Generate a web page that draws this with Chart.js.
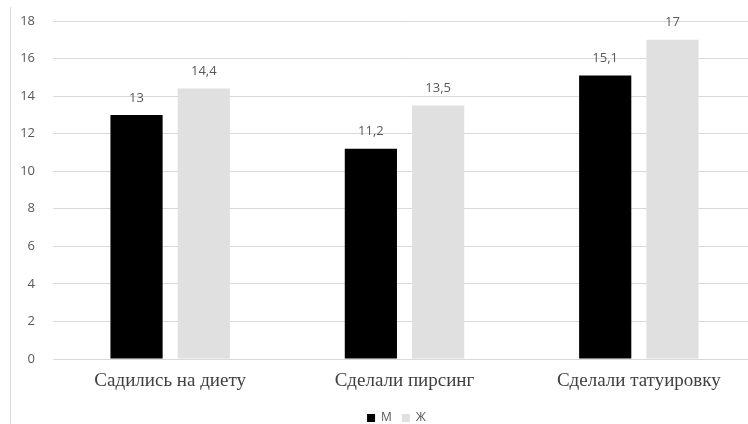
<!DOCTYPE html>
<html><head><meta charset="utf-8">
<script src="https://cdn.jsdelivr.net/npm/chart.js@4/dist/chart.umd.min.js"></script>
<style>
html,body{margin:0;padding:0;background:#fff;overflow:hidden;width:748px;height:424px;}
#wrap{position:absolute;left:0;top:0;width:756px;height:434px;}
#edge{position:absolute;left:10px;top:7px;width:0;height:417px;border-left:1px solid #d9d9d9;}
</style></head>
<body>
<div id="wrap"><canvas id="c" width="756" height="434" style="width:756px;height:434px;"></canvas></div>
<div id="edge"></div>
<script>
const categories = ["Садились на диету", "Сделали пирсинг", "Сделали татуировку"];
const seriesNames = ["М", "Ж"];
const maleValues = [13, 11.2, 15.1];
const femaleValues = [14.4, 13.5, 17];
const yTicks = [0, 2, 4, 6, 8, 10, 12, 14, 16, 18];

const valueLabels = {
  id: 'valueLabels',
  afterDatasetsDraw(chart) {
    const ctx = chart.ctx;
    ctx.save();
    ctx.font = '13px "Open Sans", sans-serif';
    ctx.fillStyle = '#595959';
    ctx.textAlign = 'center';
    ctx.textBaseline = 'middle';
    chart.data.datasets.forEach((ds, i) => {
      const meta = chart.getDatasetMeta(i);
      meta.data.forEach((el, j) => {
        const txt = String(ds.data[j]).replace('.', ',');
        ctx.fillText(txt, el.x, el.y - 17);
      });
    });
    ctx.restore();
  }
};

const legendShift = {
  id: 'legendShift',
  afterLayout(chart) {
    const lg = chart.legend;
    if (lg) { lg.left -= 8; lg.right -= 8; }
  }
};

new Chart(document.getElementById('c'), {
  type: 'bar',
  data: {
    labels: categories,
    datasets: [
      { label: seriesNames[0], data: maleValues, backgroundColor: '#000000',
        barPercentage: 0.776, categoryPercentage: 0.574 },
      { label: seriesNames[1], data: femaleValues, backgroundColor: '#e0e0e0',
        barPercentage: 0.776, categoryPercentage: 0.574 }
    ]
  },
  options: {
    responsive: false,
    animation: false,
    devicePixelRatio: 1,
    layout: { padding: { top: 21, bottom: 0, left: 0, right: 0 } },
    plugins: {
      legend: {
        position: 'bottom',
        fullSize: false,
        labels: {
          boxWidth: 8, boxHeight: 8, padding: 10,
          color: '#595959',
          font: { family: '"Open Sans", sans-serif', size: 12 }
        }
      },
      tooltip: { enabled: false }
    },
    scales: {
      x: {
        grid: { display: false, drawTicks: false },
        border: { display: false },
        ticks: {
          color: '#404040', padding: 11,
          font: { family: '"Liberation Serif", serif', size: 19 }
        },
        afterFit(s) { s.height = 43; s.paddingTop = 0; s.paddingBottom = 0; }
      },
      y: {
        min: 0, max: 18,
        afterBuildTicks(s) { s.ticks = yTicks.map(v => ({ value: v })); },
        grid: { color: '#d9d9d9', drawTicks: false },
        border: { display: false },
        ticks: {
          color: '#595959', padding: 18,
          font: { family: '"Open Sans", sans-serif', size: 13 }
        },
        afterFit(s) { s.width = 53; s.paddingTop = 0; s.paddingBottom = 0; }
      }
    }
  },
  plugins: [valueLabels, legendShift]
});
</script>
</body></html>
